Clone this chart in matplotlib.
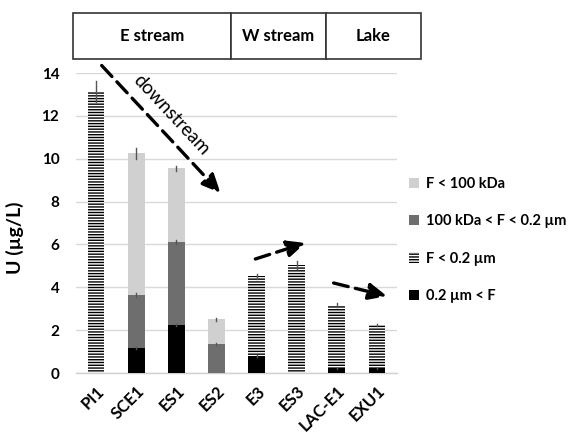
import matplotlib
matplotlib.use("Agg")
import matplotlib.pyplot as plt
from matplotlib.patches import Rectangle
import matplotlib.transforms as mtransforms
import numpy as np

plt.rcParams['font.family'] = ['Lato', 'DejaVu Sans']
plt.rcParams['font.weight'] = 'bold'
plt.rcParams['hatch.linewidth'] = 1.0

categories = ['PI1', 'SCE1', 'ES1', 'ES2', 'E3', 'ES3', 'LAC-E1', 'EXU1']
black_part = [0, 1.15, 2.25, 0, 0.80, 0, 0.22, 0.22]      # 0.2 µm < F
dark_part = [0, 2.50, 3.85, 1.35, 0, 0, 0, 0]             # 100 kDa < F < 0.2 µm
light_part = [0, 6.60, 3.45, 1.15, 0, 0, 0, 0]            # F < 100 kDa
hatched_part = [13.15, 0, 0, 0, 3.72, 5.05, 2.95, 2.02]   # F < 0.2 µm
black_err = [0, 0.05, 0.06, 0, 0.05, 0, 0.03, 0.03]
dark_err = [0, 0.08, 0.1, 0.04, 0, 0, 0, 0]
light_err = [0, 0.25, 0.1, 0.05, 0, 0, 0, 0]
hatched_err = [0.5, 0, 0, 0, 0.12, 0.2, 0.08, 0.05]

regions = ['E stream', 'W stream', 'Lake']
yticks = [0, 2, 4, 6, 8, 10, 12, 14]

fig = plt.figure(figsize=(5.74, 4.36), dpi=100)
ax = fig.add_axes([76/574, 63/436, 321/574, 300/436])

x = np.arange(len(categories))
w = 0.42
b = np.array(black_part)
d = np.array(dark_part)
l = np.array(light_part)
h = np.array(hatched_part)

ax.bar(x, b, w, color='black', zorder=3, label='0.2 µm < F')
ax.bar(x, d, w, bottom=b, color='#6e6e6e', zorder=3, label='100 kDa < F < 0.2 µm')
ax.bar(x, l, w, bottom=b + d, color='#d0d0d0', zorder=3, label='F < 100 kDa')
ax.bar(x, h, w, bottom=b + d + l, facecolor='white', edgecolor='black', hatch='------',
       linewidth=0, zorder=3, label='F < 0.2 µm')

def errs(tops, err, present):
    for xi, t, e, p in zip(x, tops, err, present):
        if p > 0 and e > 0:
            ax.plot([xi, xi], [t - e, t + e], color='#555555', lw=1.0, zorder=4)

errs(b, black_err, b)
errs(b + d, dark_err, d)
errs(b + d + l, light_err, l)
errs(b + d + l + h, hatched_err, h)

ax.set_ylim(0, 14)
ax.set_xlim(-0.5, len(categories) - 0.5)
ax.set_yticks(yticks)
ax.set_yticklabels([str(t) for t in yticks], fontsize=11, fontweight='bold')
ax.set_xticks(x)
ax.set_xticklabels(categories, rotation=45, ha='right', rotation_mode='anchor',
                   fontsize=12, fontweight='bold')
offset = mtransforms.ScaledTranslation(6/100, 0, fig.dpi_scale_trans)
for lab in ax.get_xticklabels():
    lab.set_transform(lab.get_transform() + offset)
ax.tick_params(axis='y', length=0, pad=12)
ax.tick_params(axis='x', length=0, pad=7)
ax.grid(axis='y', color='#d9d9d9', lw=1.0, zorder=0)
for s in ['top', 'right', 'left']:
    ax.spines[s].set_visible(False)
ax.spines['bottom'].set_color('#d0d0d0')
ax.spines['bottom'].set_linewidth(1.0)
ax.set_ylabel('U (µg/L)', fontsize=14, fontweight='bold')
ax.yaxis.set_label_coords(-52/321, 0.45)

# arrows
def arrow(x0, y0, x1, y1):
    ax.annotate('', xy=(x1, y1), xytext=(x0, y0), annotation_clip=False,
                arrowprops=dict(arrowstyle='-|>,head_length=1.1,head_width=0.5',
                                color='black', lw=2.4, linestyle=(0, (4.5, 2.2)),
                                shrinkA=0, shrinkB=0))

arrow(0.14, 14.35, 3.1, 8.4)
arrow(3.97, 5.32, 5.22, 6.07)
arrow(5.92, 4.2, 7.25, 3.59)
ax.text(1.88, 12.05, 'downstream', rotation=-47, fontsize=13.5, fontweight='normal',
        ha='center', va='center', rotation_mode='anchor')

# legend
handles, labels = ax.get_legend_handles_labels()
order = [2, 1, 3, 0]
leg = fig.legend([handles[i] for i in order], [labels[i] for i in order],
                 loc='upper left', bbox_to_anchor=(409/574, 1 - 177/436),
                 frameon=False, fontsize=10.5, labelspacing=1.6,
                 handlelength=0.7, handleheight=0.7, handletextpad=0.45,
                 borderaxespad=0, borderpad=0)
for t in leg.get_texts():
    t.set_fontweight('bold')

# header boxes
x_edges = [73, 231, 326, 421]
y0, y1 = 1 - 59/436, 1 - 13/436
for i, name in enumerate(regions):
    xa, xb = x_edges[i] / 574, x_edges[i + 1] / 574
    fig.add_artist(Rectangle((xa, y0), xb - xa, y1 - y0, transform=fig.transFigure,
                             facecolor='white', edgecolor='#333333', lw=1.2))
    fig.text((xa + xb) / 2, (y0 + y1) / 2, name, ha='center', va='center',
             fontsize=12, fontweight='bold')

fig.savefig('out.png', dpi=100)
